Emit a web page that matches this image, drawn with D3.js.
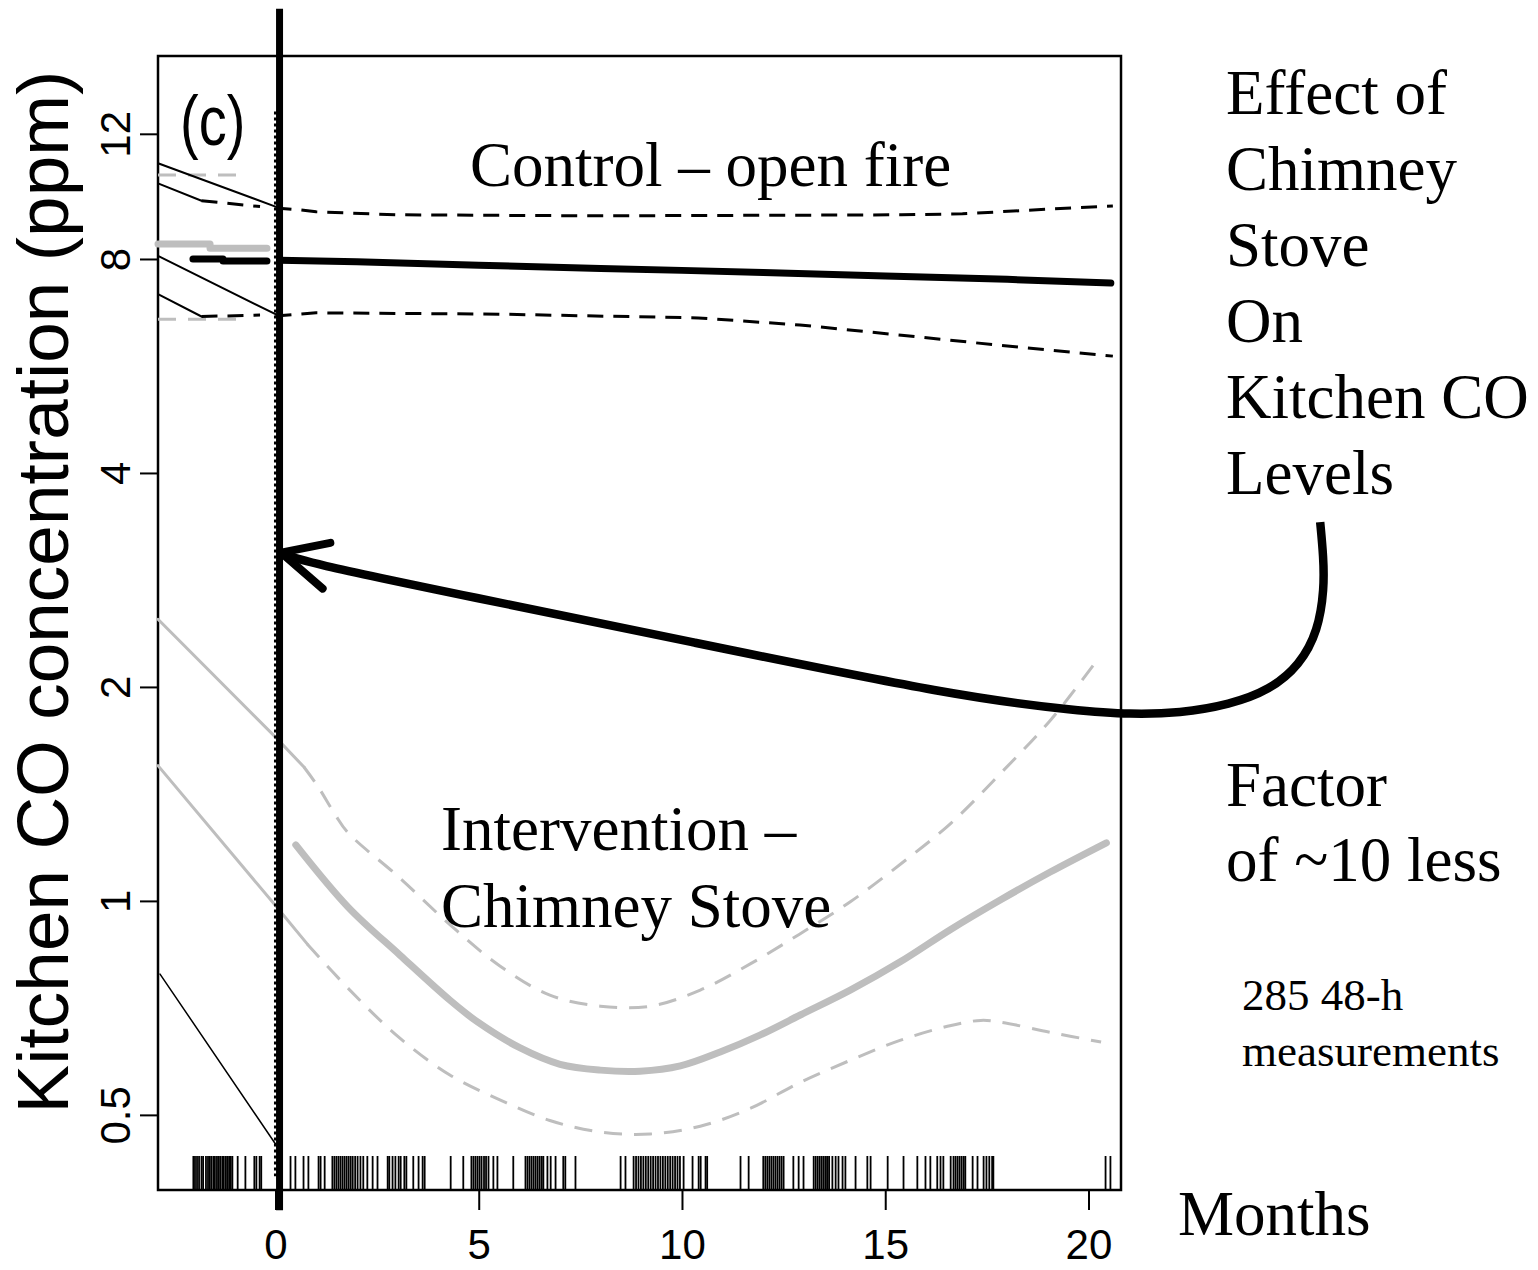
<!DOCTYPE html>
<html>
<head>
<meta charset="utf-8">
<script src="https://cdn.jsdelivr.net/npm/d3@7"></script>
<style>
  body { margin: 0; background: #fff; }
  svg { display: block; }
</style>
</head>
<body>
<svg id="chart"></svg>
<script>
// ticks
const xTicks = [0, 5, 10, 15, 20];
const yTicks = [0.5, 1, 2, 4, 8, 12];

// control (open fire) after month 0
const ctrlMonths = [0.1, 2, 5, 8, 10, 12, 15, 18, 20.55];
const ctrlFit = [7.97, 7.93, 7.84, 7.76, 7.71, 7.66, 7.57, 7.49, 7.40];
const ctrlUpperMonths = [0, 0.6, 1.0, 3.0, 8.0, 15.4, 16.9, 17.8, 19.1, 20.6];
const ctrlUpper = [9.44, 9.38, 9.32, 9.23, 9.20, 9.23, 9.26, 9.32, 9.41, 9.50];
const ctrlLowerMonths = [0, 1.0, 5.5, 10.4, 12.9, 15.4, 17.8, 20.6];
const ctrlLower = [6.65, 6.72, 6.69, 6.61, 6.46, 6.25, 6.05, 5.84];

// intervention (chimney stove) after month 0
const intMonths = [0.5, 1.78, 3.06, 4.29, 4.98, 6.02, 7.0, 7.99, 8.97, 9.96, 10.94, 11.93, 12.91, 14.14, 15.37, 16.6, 17.83, 19.06, 20.44];
const intFit = [1.199, 0.981, 0.839, 0.725, 0.675, 0.621, 0.589, 0.578, 0.576, 0.586, 0.613, 0.648, 0.691, 0.749, 0.821, 0.911, 1.003, 1.098, 1.207];
const intUpperMonths = [0.70, 1.05, 1.47, 1.78, 3.06, 4.29, 5.52, 6.75, 7.99, 9.22, 10.45, 11.69, 12.92, 14.15, 15.38, 16.62, 17.85, 19.08, 20.21];
const intUpper = [1.543, 1.447, 1.322, 1.248, 1.077, 0.926, 0.810, 0.737, 0.711, 0.711, 0.749, 0.816, 0.900, 0.998, 1.127, 1.287, 1.514, 1.80, 2.18];
const intLowerMonths = [0.78, 1.83, 3.06, 4.29, 5.52, 6.75, 7.99, 9.22, 10.45, 11.69, 12.92, 14.15, 15.38, 16.62, 17.35, 17.85, 19.08, 20.31];
const intLower = [0.870, 0.749, 0.641, 0.569, 0.525, 0.491, 0.473, 0.470, 0.482, 0.511, 0.556, 0.597, 0.637, 0.668, 0.679, 0.675, 0.653, 0.633];

// pre-intervention segments (months < 0)
const preCtrlMonths = [-2.03, -1.29, -1.29, -0.21];
const preCtrlFit = [8.0, 8.0, 7.95, 7.95];
const preIntMonths = [-2.89, -1.61, -1.61, -0.21];
const preIntFit = [8.40, 8.40, 8.28, 8.28];
const preGrayBandMonths = [-2.89, -0.68];
const preGrayUpper = [10.50, 10.50];
const preGrayLower = [6.58, 6.58];
const preLineA = { m: [-2.89, 0], v: [10.91, 9.48] };
const preLineB = { m: [-2.89, -1.82], v: [10.22, 9.66] };
const preLineBDash = { m: [-1.82, -0.38], v: [9.66, 9.48] };
const preLineC = { m: [-2.89, 0], v: [8.08, 6.69] };
const preLineD = { m: [-2.89, -1.82], v: [7.14, 6.64] };
const preLineDDash = { m: [-1.82, -0.38], v: [6.64, 6.67] };
const preGrayE = { m: [-2.89, 0, 0.70], v: [2.49, 1.70, 1.543] };
const preGrayF = { m: [-2.89, 0, 0.78], v: [1.55, 0.985, 0.870] };
const preLineG = { m: [-2.84, 0], v: [0.789, 0.455] };

// 48-h measurement times (months)
const rug = [-2.02,-1.98,-1.93,-1.88,-1.82,-1.78,-1.71,-1.66,-1.62,-1.58,-1.53,-1.49,-1.44,-1.40,-1.36,-1.31,-1.27,-1.22,-1.18,-1.14,-1.10,-1.06,-0.93,-0.74,-0.52,-0.47,-0.39,-0.35,
  0.37,0.49,0.69,0.81,1.06,1.11,1.21,1.40,1.45,1.50,1.55,1.60,1.65,1.70,1.75,1.80,1.85,1.90,1.96,2.02,2.09,2.16,2.26,2.39,2.51,2.76,2.80,2.88,2.95,3.03,3.08,3.17,3.22,3.39,3.52,
  3.62,3.67,4.31,4.62,4.82,4.87,4.92,4.97,5.02,5.07,5.13,5.18,5.24,5.36,5.46,5.85,6.15,6.20,6.25,6.30,6.35,6.40,6.45,6.50,6.55,6.59,6.69,6.77,6.89,7.08,7.13,7.38,
  8.49,8.61,8.81,8.87,8.93,8.99,9.05,9.11,9.17,9.23,9.29,9.35,9.41,9.47,9.53,9.59,9.65,9.71,9.77,9.83,9.89,9.95,10.04,10.26,10.41,10.46,10.58,10.62,11.44,11.64,
  12.00,12.05,12.10,12.15,12.20,12.25,12.30,12.35,12.40,12.45,12.50,12.74,12.87,12.99,13.24,13.29,13.34,13.39,13.44,13.49,13.54,13.58,13.62,13.70,13.78,13.85,13.95,14.02,14.27,14.56,14.64,15.06,
  15.45,15.79,15.99,16.11,16.28,16.36,16.43,16.61,16.68,16.73,16.78,16.83,16.88,16.93,16.97,17.15,17.27,17.42,17.49,17.56,17.63,17.66,20.42,20.54];

// annotation arrow path (months, ppm)
const arrowMonths = [25.70, 25.78, 25.80, 25.65, 25.20, 24.46, 23.48, 22.25, 21.02, 19.79, 16.86, 9.97, 4.78, 0.65, 0.14];
const arrowPpm = [3.41, 3.05, 2.75, 2.40, 2.147, 1.98, 1.889, 1.837, 1.830, 1.851, 1.934, 2.33, 2.68, 3.00, 3.09];
const arrowBarbMonths = [1.35, 1.16];
const arrowBarbPpm = [3.19, 2.75];

const sideLines = ["Effect of", "Chimney", "Stove", "On", "Kitchen CO", "Levels"];
const factorLines = ["Factor", "of ~10 less"];
const countLines = ["285 48-h", "measurements"];

const width = 1538, height = 1270;
const svg = d3.select("#chart").attr("width", width).attr("height", height);

const plot = { left: 158, right: 1121, top: 56, bottom: 1190 };
const x = d3.scaleLinear().domain([-2.89, 20.8]).range([plot.left, plot.right]);
const y = d3.scaleLog().domain([0.392, 15.44]).range([plot.bottom, plot.top]);

const SANS = "'Liberation Sans', Arial, Helvetica, sans-serif";
const SERIF = "'Liberation Serif', 'Times New Roman', serif";
const GRAY = "#bebebe";

const line = d3.line().x(d => x(d[0])).y(d => y(d[1]));
const zip = (a, b) => a.map((v, i) => [v, b[i]]);

function drawLine(m, v, stroke, w, dash) {
  svg.append("path")
    .attr("d", line(zip(m, v)))
    .attr("fill", "none")
    .attr("stroke", stroke)
    .attr("stroke-width", w)
    .attr("stroke-dasharray", dash || null)
    .attr("stroke-linejoin", "round")
    .attr("stroke-linecap", dash ? "butt" : "round");
}

// box
svg.append("rect")
  .attr("x", plot.left).attr("y", plot.top)
  .attr("width", plot.right - plot.left).attr("height", plot.bottom - plot.top)
  .attr("fill", "none").attr("stroke", "#000").attr("stroke-width", 2.5);

// pre period
drawLine(preGrayBandMonths, preGrayUpper, GRAY, 3, "18,12");
drawLine(preGrayBandMonths, preGrayLower, GRAY, 3, "18,12");
drawLine(preLineA.m, preLineA.v, "#000", 2);
drawLine(preLineB.m, preLineB.v, "#000", 2);
drawLine(preLineBDash.m, preLineBDash.v, "#000", 3, "16,10");
drawLine(preLineC.m, preLineC.v, "#000", 2);
drawLine(preLineD.m, preLineD.v, "#000", 2);
drawLine(preLineDDash.m, preLineDDash.v, "#000", 3, "16,10");
drawLine(preIntMonths, preIntFit, GRAY, 7);
drawLine(preCtrlMonths, preCtrlFit, "#000", 7);
drawLine(preGrayE.m, preGrayE.v, GRAY, 3);
drawLine(preGrayF.m, preGrayF.v, GRAY, 3);
drawLine(preLineG.m, preLineG.v, "#000", 1.5);

// control
drawLine(ctrlUpperMonths, ctrlUpper, "#000", 3, "16,10");
drawLine(ctrlLowerMonths, ctrlLower, "#000", 3, "16,10");
drawLine(ctrlMonths, ctrlFit, "#000", 7);

// intervention
const smooth = d3.line().x(d => x(d[0])).y(d => y(d[1])).curve(d3.curveCatmullRom);
function drawSmooth(m, v, stroke, w, dash) {
  svg.append("path")
    .attr("d", smooth(zip(m, v)))
    .attr("fill", "none")
    .attr("stroke", stroke)
    .attr("stroke-width", w)
    .attr("stroke-dasharray", dash || null)
    .attr("stroke-linecap", dash ? "butt" : "round");
}
drawSmooth(intUpperMonths, intUpper, GRAY, 3, "18,12");
drawSmooth(intLowerMonths, intLower, GRAY, 3, "18,12");
drawSmooth(intMonths, intFit, GRAY, 7);

// rug
const rugLen = (plot.bottom - plot.top) * 0.03;
svg.append("g").selectAll("line").data(rug).join("line")
  .attr("x1", d => x(d)).attr("x2", d => x(d))
  .attr("y1", plot.bottom).attr("y2", plot.bottom - rugLen)
  .attr("stroke", "#000").attr("stroke-width", 1.8);

// month 0 markers
svg.append("line")
  .attr("x1", x(0)).attr("x2", x(0))
  .attr("y1", y(12.9)).attr("y2", y(0.41))
  .attr("stroke", "#000").attr("stroke-width", 3).attr("stroke-dasharray", "3,3");
svg.append("line")
  .attr("x1", x(0.1)).attr("x2", x(0.1))
  .attr("y1", y(18)).attr("y2", y(0.367))
  .attr("stroke", "#000").attr("stroke-width", 7);

// axes
const xAxis = svg.append("g")
  .attr("transform", `translate(0,${plot.bottom})`)
  .call(d3.axisBottom(x).tickValues(xTicks).tickSize(20).tickPadding(38).tickFormat(d3.format("d")));
xAxis.select(".domain").remove();
xAxis.selectAll("line").attr("stroke-width", 2);
xAxis.selectAll("text")
  .attr("font-family", SANS).attr("font-size", 42).attr("fill", "#000")
  .attr("y", 69).attr("dy", 0);

const yAxis = svg.append("g")
  .attr("transform", `translate(${plot.left},0)`)
  .call(d3.axisLeft(y).tickValues(yTicks).tickSize(18).tickFormat(d => String(d)));
yAxis.select(".domain").remove();
yAxis.selectAll("line").attr("stroke-width", 2);
yAxis.selectAll("text")
  .attr("font-family", SANS).attr("font-size", 42).attr("fill", "#000")
  .attr("transform", "rotate(-90)")
  .attr("x", 0).attr("y", -28).attr("dy", 0)
  .attr("text-anchor", "middle");

svg.append("text")
  .attr("transform", "translate(68,592) rotate(-90)")
  .attr("text-anchor", "middle")
  .attr("font-family", SANS).attr("font-size", 73)
  .text("Kitchen CO concentration (ppm)");

// arrow
const arrowLine = d3.line().x(d => x(d[0])).y(d => y(d[1])).curve(d3.curveBasis);
svg.append("path")
  .attr("d", arrowLine(zip(arrowMonths, arrowPpm)))
  .attr("fill", "none").attr("stroke", "#000").attr("stroke-width", 8.5)
  .attr("stroke-linejoin", "round");
const tip = [arrowMonths[arrowMonths.length - 1], arrowPpm[arrowPpm.length - 1]];
arrowBarbMonths.forEach((m, i) => {
  svg.append("line")
    .attr("x1", x(tip[0])).attr("y1", y(tip[1]))
    .attr("x2", x(m)).attr("y2", y(arrowBarbPpm[i]))
    .attr("stroke", "#000").attr("stroke-width", 8).attr("stroke-linecap", "round");
});

// labels
svg.append("text").attr("transform", "translate(180,145) scale(0.8,1)")
  .attr("font-family", SANS).attr("font-size", 70).text("(c)");
svg.append("text").attr("x", 470).attr("y", 186)
  .attr("font-family", SERIF).attr("font-size", 63).text("Control \u2013 open fire");
svg.append("text").attr("x", 441).attr("y", 850)
  .attr("font-family", SERIF).attr("font-size", 63).text("Intervention \u2013");
svg.append("text").attr("x", 441).attr("y", 927)
  .attr("font-family", SERIF).attr("font-size", 63).text("Chimney Stove");

svg.append("g").selectAll("text").data(sideLines).join("text")
  .attr("x", 1226).attr("y", (d, i) => 114 + i * 76)
  .attr("font-family", SERIF).attr("font-size", 63).text(d => d);
svg.append("g").selectAll("text").data(factorLines).join("text")
  .attr("x", 1226).attr("y", (d, i) => 806 + i * 75)
  .attr("font-family", SERIF).attr("font-size", 63).text(d => d);
svg.append("g").selectAll("text").data(countLines).join("text")
  .attr("x", 1242).attr("y", (d, i) => 1010 + i * 56)
  .attr("font-family", SERIF).attr("font-size", 45).text(d => d);
svg.append("text").attr("x", 1178).attr("y", 1235)
  .attr("font-family", SERIF).attr("font-size", 63).text("Months");
</script>
</body>
</html>
